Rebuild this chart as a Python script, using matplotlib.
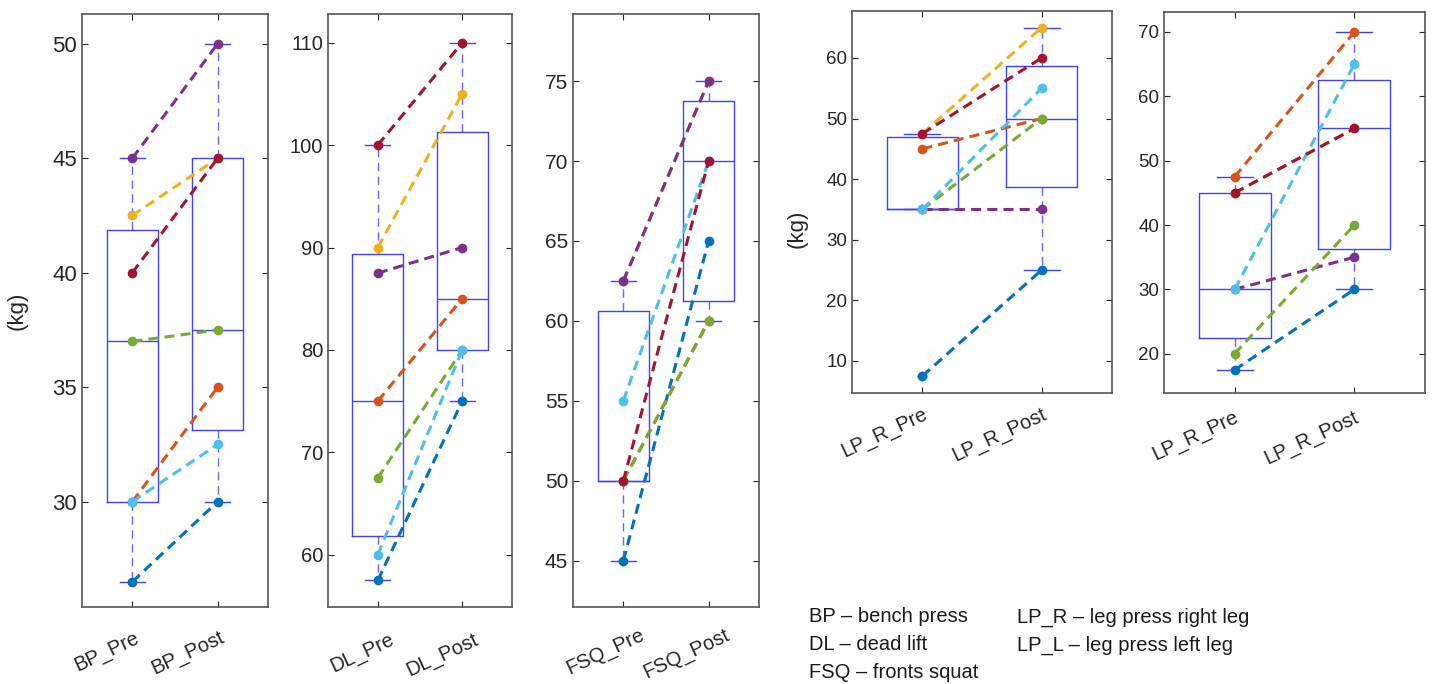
import numpy as np
import matplotlib.pyplot as plt
from matplotlib.transforms import ScaledTranslation

plt.rcParams['font.family'] = ['Liberation Sans', 'DejaVu Sans']

# cores padrao do MATLAB, uma por participante
cores = ['#0072BD', '#D95319', '#EDB120', '#7E2F8E', '#77AC30', '#4DBEEE', '#A2142F']

BP_pre = [26.5, 30, 42.5, 45, 37, 30, 40]
BP_post = [30, 35, 45, 50, 37.5, 32.5, 45]
DL_pre = [57.5, 75, 90, 87.5, 67.5, 60, 100]
DL_post = [75, 85, 105, 90, 80, 80, 110]
FSQ_pre = [45, 50, 62.5, 62.5, 50, 55, 50]
FSQ_post = [65, 60, 75, 75, 60, 70, 70]
LPR_pre = [7.5, 45, 47.5, 35, 35, 35, 47.5]
LPR_post = [25, 50, 65, 35, 50, 55, 60]
LPL_pre = [17.5, 47.5, 45, 30, 20, 30, 45]
LPL_post = [30, 70, 55, 35, 40, 65, 55]

rotulos = [['BP_Pre', 'BP_Post'], ['DL_Pre', 'DL_Post'], ['FSQ_Pre', 'FSQ_Post'],
           ['LP_R_Pre', 'LP_R_Post'], ['LP_R_Pre', 'LP_R_Post']]
yticks = [np.arange(30, 51, 5), np.arange(60, 111, 10), np.arange(45, 76, 5),
          np.arange(10, 61, 10), np.arange(20, 71, 10)]
ylims = [(25.4, 51.3), (54.9, 112.8), (42.1, 79.2), (4.7, 67.75), (13.9, 73.1)]
dados = [(BP_pre, BP_post), (DL_pre, DL_post), (FSQ_pre, FSQ_post),
         (LPR_pre, LPR_post), (LPL_pre, LPL_post)]

# posicoes dos eixos em pixels (esq, topo, dir, base)
caixas = [(82, 14, 268, 607), (328, 14, 512, 607), (573, 14, 759, 607),
          (852, 11, 1112, 393), (1164, 12, 1425, 393)]
fontes = [16, 14.5, 15, 13.5, 13.5]
# deslocamento dos rotulos do eixo x (px)
desloc = [(2, 16), (11, 18), (16, 13), (0, 7), (-1, 10)]
W, H = 1432, 684


def estat(v):
    # quartis no estilo do MATLAB (prctile) -> metodo hazen
    v = np.sort(np.array(v, dtype=float))
    q1, med, q3 = np.percentile(v, [25, 50, 75], method='hazen')
    iqr = q3 - q1
    dentro = v[(v >= q1 - 1.5 * iqr) & (v <= q3 + 1.5 * iqr)]
    fora = v[(v < q1 - 1.5 * iqr) | (v > q3 + 1.5 * iqr)]
    return dict(med=med, q1=q1, q3=q3, whislo=dentro.min(), whishi=dentro.max(), fliers=fora)


fig = plt.figure(figsize=(W / 100, H / 100), dpi=100)

for i in range(5):
    l, t, r, b = caixas[i]
    ax = fig.add_axes([l / W, 1 - b / H, (r - l) / W, (b - t) / H])
    pre, post = dados[i]
    azul = (0.25, 0.25, 1.0)
    ax.bxp([estat(pre), estat(post)], positions=[1, 2], widths=0.6,
           boxprops=dict(color=azul, lw=1.0),
           medianprops=dict(color=azul, lw=1.0),
           whiskerprops=dict(color=azul, lw=1.0, ls=(0, (6, 4)), alpha=0.8),
           capprops=dict(color=azul, lw=1.0),
           flierprops=dict(marker='+', markeredgecolor='red', markersize=7),
           zorder=1)
    for k in range(len(pre)):
        ax.plot([1, 2], [pre[k], post[k]], color=cores[k], lw=2.2,
                ls=(0, (3.3, 2)), marker='o', markersize=6, zorder=3)

    ax.set_xlim(0.41, 2.59)
    ax.set_ylim(*ylims[i])
    ax.set_yticks(yticks[i])
    ax.set_xticks([1, 2])
    ax.set_xticklabels([])
    # rotulos inclinados como no MATLAB, com deslocamento manual
    dx, dy = desloc[i]
    tr = ax.get_xaxis_transform() + ScaledTranslation(dx / 100, -(5 + dy) / 100, fig.dpi_scale_trans)
    for pos, txt in zip([1, 2], rotulos[i]):
        ax.text(pos, 0, txt, transform=tr, rotation=25, ha='right', va='top',
                rotation_mode='anchor', fontsize=14.5, color='#262626')
    ax.tick_params(direction='in', top=True, right=True, colors='#262626', length=4)
    ax.tick_params(axis='y', labelsize=fontes[i])
    for s in ax.spines.values():
        s.set_color('#555555')
        s.set_linewidth(1.2)

    if i == 0:
        ax.set_ylabel('(kg)', fontsize=16, color='#262626')
        ax.yaxis.set_label_coords(-0.29, 0.5)
    if i == 3:
        ax.set_ylabel('(kg)', fontsize=16, color='#262626')
        ax.yaxis.set_label_coords(-0.169, 0.43)

# legenda das siglas
linhas_esq = ['BP – bench press', 'DL – dead lift', 'FSQ – fronts squat']
linhas_dir = ['LP_R – leg press right leg', 'LP_L – leg press left leg']
ys = [617, 645, 672]
for j, txt in enumerate(linhas_esq):
    fig.text(809 / W, 1 - ys[j] / H, txt, fontsize=14.5, va='center', color='#1a1a1a')
for j, txt in enumerate(linhas_dir):
    fig.text(1017 / W, 1 - ys[j] / H, txt, fontsize=14.5, va='center', color='#1a1a1a')

plt.savefig('out.png', dpi=100)
